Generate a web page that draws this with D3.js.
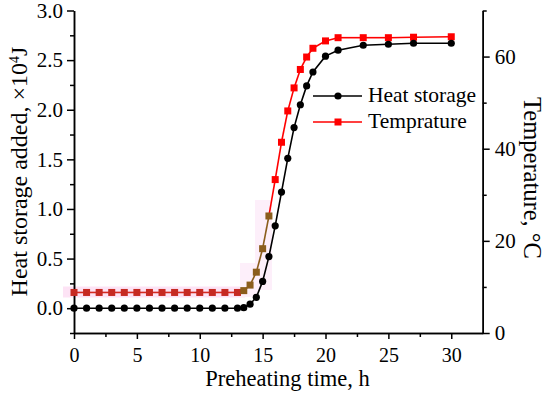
<!DOCTYPE html>
<html><head><meta charset="utf-8">
<script src="https://cdn.jsdelivr.net/npm/d3@7"></script>
<style>
html,body{margin:0;padding:0;background:#fff;}
svg{display:block;}
svg text{font-family:'Liberation Serif','DejaVu Serif',serif;fill:#000;}
</style></head>
<body>
<svg id="c" width="550" height="399"></svg>
<script>
const time = [0,1,2,3,4,5,6,7,8,9,10,11,12,13,13.5,14,14.5,15,15.5,16,16.5,17,17.5,18,18.5,19,20,21,23,25,27,30];
const heatStorage = [0,0,0,0,0,0,0,0,0,0,0,0,0,0,0.005,0.04,0.11,0.27,0.52,0.83,1.17,1.51,1.82,2.05,2.24,2.38,2.54,2.60,2.65,2.66,2.67,2.67];
const temperature = [8.8,8.8,8.8,8.8,8.8,8.8,8.8,8.8,8.8,8.8,8.8,8.8,8.8,8.8,9.2,10.4,13.2,18.3,25.4,33.3,41.4,48.2,53.2,57.2,59.9,61.8,63.4,64.1,64.1,64.1,64.2,64.3];
const xTicks = [0,5,10,15,20,25,30];
const leftTicks = [0,0.5,1.0,1.5,2.0,2.5,3.0];
const rightTicks = [0,20,40,60];
const seriesNames = ["Heat storage","Temprature"];

const FONT = "'Liberation Serif','DejaVu Serif',serif";
const svg = d3.select("#c");
const L = 74, R = 482.7, T = 10.5, B = 333;
const x = d3.scaleLinear().domain([0,32.5]).range([L,R]);
const yL = d3.scaleLinear().domain([-0.25,3.0]).range([B,T]);
const yR = d3.scaleLinear().domain([0,70]).range([B,T]);

// faint pink artefact band
const g0 = svg.append("g");
g0.append("rect").attr("x",63).attr("y",286.5).attr("width",x(13.6)-63).attr("height",11).attr("fill","#fde3f5");
g0.append("rect").attr("x",240).attr("y",263).attr("width",18).attr("height",34).attr("fill","#fdeffa");
g0.append("rect").attr("x",255).attr("y",200).attr("width",17).attr("height",90).attr("fill","#fdeffa");

// axes
const axB = svg.append("g").attr("transform",`translate(0,${B})`)
  .call(d3.axisBottom(x).tickValues(xTicks).tickSize(6).tickSizeOuter(0).tickFormat(d3.format("d")));
const axBm = svg.append("g").attr("transform",`translate(0,${B})`)
  .call(d3.axisBottom(x).tickValues(d3.range(2.5,32.5,5)).tickSize(4).tickSizeOuter(0).tickFormat(""));
const axL = svg.append("g").attr("transform",`translate(${L},0)`)
  .call(d3.axisLeft(yL).tickValues(leftTicks).tickSize(7).tickSizeOuter(0).tickFormat(d3.format(".1f")));
const axLm = svg.append("g").attr("transform",`translate(${L},0)`)
  .call(d3.axisLeft(yL).tickValues(d3.range(-0.25,3.0,0.5)).tickSize(4).tickSizeOuter(0).tickFormat(""));
const axR = svg.append("g").attr("transform",`translate(${R},0)`)
  .call(d3.axisRight(yR).tickValues(rightTicks).tickSize(7).tickSizeOuter(0).tickFormat(d3.format("d")));
const axRm = svg.append("g").attr("transform",`translate(${R},0)`)
  .call(d3.axisRight(yR).tickValues([10,30,50,70]).tickSize(4).tickSizeOuter(0).tickFormat(""));
[axB,axBm,axL,axLm,axR,axRm].forEach(a=>{
  a.attr("font-family",FONT);
  a.selectAll("path,line").attr("stroke","#000").attr("stroke-width",1.5);
  a.selectAll("text").attr("font-family",FONT).attr("fill","#000");
});
axB.selectAll("text").attr("font-size",20).attr("y",29).attr("dy",0);
axL.selectAll("text").attr("font-size",21).attr("x",-11);
axR.selectAll("text").attr("font-size",21).attr("x",12);

// titles
svg.append("text").attr("x",287.5).attr("y",386).attr("text-anchor","middle").attr("font-family",FONT).attr("font-size",22.5).text("Preheating time, h");
svg.append("text").attr("transform",`translate(27,171.5) rotate(-90)`).attr("text-anchor","middle").attr("font-family",FONT).attr("font-size",24)
  .html('Heat storage added, ×10<tspan dy="-8" font-size="14">4</tspan><tspan dy="8">J</tspan>');
svg.append("text").attr("transform",`translate(524,178) rotate(90)`).attr("text-anchor","middle").attr("font-family",FONT).attr("font-size",24.5).text("Temperature, °C");

// colors per point region (image artefact)
const redCol = (t)=> t<=13 ? "#c62a22" : (t<=15.5 ? "#8b5d1c" : "#ff0000");
const pts = time.map((t,i)=>({t,h:heatStorage[i],T:temperature[i]}));

// temperature line
const lineT = d3.line().x(d=>x(d.t)).y(d=>yR(d.T));
for(let i=0;i<pts.length-1;i++){
  svg.append("path").attr("d",lineT([pts[i],pts[i+1]])).attr("fill","none")
    .attr("stroke", pts[i+1].t<=13 ? "#d42a22" : (pts[i+1].t<=15.5 ? "#8b5d1c" : "#ff0000")).attr("stroke-width",1.6);
}
svg.append("g").selectAll("rect").data(pts).join("rect")
  .attr("x",d=>x(d.t)-3.5).attr("y",d=>yR(d.T)-3.5).attr("width",7).attr("height",7)
  .attr("fill",d=>redCol(d.t));

// heat storage line
const lineH = d3.line().x(d=>x(d.t)).y(d=>yL(d.h));
svg.append("path").attr("d",lineH(pts)).attr("fill","none").attr("stroke","#000").attr("stroke-width",1.6);
svg.append("g").selectAll("circle").data(pts).join("circle")
  .attr("cx",d=>x(d.t)).attr("cy",d=>yL(d.h)).attr("r",3.6).attr("fill","#000");

// legend
const leg = svg.append("g");
const ly = [96,122];
leg.append("line").attr("x1",313).attr("x2",362).attr("y1",ly[0]).attr("y2",ly[0]).attr("stroke","#000").attr("stroke-width",1.6);
leg.append("circle").attr("cx",338).attr("cy",ly[0]).attr("r",3.6).attr("fill","#000");
leg.append("line").attr("x1",313).attr("x2",362).attr("y1",ly[1]).attr("y2",ly[1]).attr("stroke","#ff0000").attr("stroke-width",1.6);
leg.append("rect").attr("x",334.5).attr("y",ly[1]-3.5).attr("width",7).attr("height",7).attr("fill","#ff0000");
leg.selectAll("text.l").data(seriesNames).join("text").attr("class","l")
  .attr("x",368).attr("y",(d,i)=>ly[i]+6).attr("font-family",FONT).attr("font-size",21.5).text(d=>d);
</script>
</body></html>
